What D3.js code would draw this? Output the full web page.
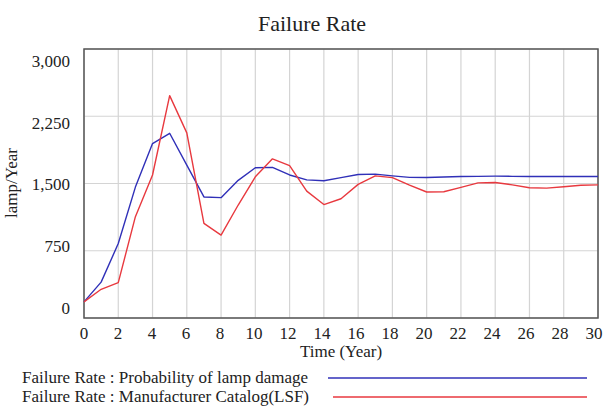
<!DOCTYPE html>
<html>
<head>
<meta charset="utf-8">
<script src="https://cdn.jsdelivr.net/npm/d3@7"></script>
<style>
  html, body { margin: 0; padding: 0; background: #fff; }
  svg { display: block; font-family: "Liberation Serif", "Times New Roman", serif; }
</style>
</head>
<body>
<div id="chart"></div>
<script>
const years = d3.range(0, 31);
const lampDamage = [180, 400, 830, 1460, 1945, 2060, 1705, 1350, 1342, 1535, 1675,
  1680, 1595, 1540, 1530, 1565, 1600, 1604, 1585, 1568, 1567, 1572, 1578, 1580, 1582,
  1580, 1578, 1578, 1578, 1578, 1578];
const catalogLSF = [180, 320, 395, 1130, 1595, 2480, 2065, 1055, 925, 1260, 1575,
  1775, 1700, 1415, 1265, 1330, 1490, 1585, 1565, 1482, 1405, 1408, 1456, 1507, 1511,
  1485, 1452, 1448, 1463, 1480, 1485];
const yTicks = [0, 750, 1500, 2250, 3000];
const xTicks = d3.range(0, 31, 2);
const seriesNames = ["Failure Rate : Probability of lamp damage", "Failure Rate : Manufacturer Catalog(LSF)"];
const seriesColors = ["#3030b8", "#e8393f"];

const width = 608, height = 407;
const margin = { top: 49, right: 10, bottom: 89, left: 84 };
const plotW = width - margin.left - margin.right;
const plotH = height - margin.top - margin.bottom;

const svg = d3.select("#chart").append("svg")
  .attr("width", width)
  .attr("height", height);

const x = d3.scaleLinear().domain([0, 30]).range([margin.left, margin.left + plotW]);
const y = d3.scaleLinear().domain([0, 3000]).range([margin.top + plotH, margin.top]);

// Vensim spreads the labels a little inside the frame
const xLab = d3.scaleLinear().domain([0, 30]).range([margin.left, margin.left + plotW - 4]);
const yLab = d3.scaleLinear().domain([0, 3000]).range([margin.top + plotH - 10, margin.top + 12]);

// grid
svg.append("g").selectAll("line.vg")
  .data(xTicks)
  .enter().append("line")
  .attr("x1", d => x(d)).attr("x2", d => x(d))
  .attr("y1", margin.top).attr("y2", margin.top + plotH)
  .attr("stroke", "#d4d4d4").attr("stroke-width", 1.2);

svg.append("g").selectAll("line.hg")
  .data(yTicks)
  .enter().append("line")
  .attr("x1", margin.left).attr("x2", margin.left + plotW)
  .attr("y1", d => y(d)).attr("y2", d => y(d))
  .attr("stroke", "#d4d4d4").attr("stroke-width", 1.2);

// frame
svg.append("rect")
  .attr("x", margin.left).attr("y", margin.top)
  .attr("width", plotW).attr("height", plotH)
  .attr("fill", "none").attr("stroke", "#555").attr("stroke-width", 1.5);

// tick labels
svg.append("g").selectAll("text")
  .data(yTicks)
  .enter().append("text")
  .attr("x", 70).attr("y", d => yLab(d))
  .attr("dy", "0.35em")
  .attr("text-anchor", "end")
  .attr("font-size", 17)
  .attr("fill", "#222")
  .text(d => d3.format(",")(d));

svg.append("g").selectAll("text")
  .data(xTicks)
  .enter().append("text")
  .attr("x", d => xLab(d)).attr("y", 339)
  .attr("text-anchor", "middle")
  .attr("font-size", 17)
  .attr("fill", "#222")
  .text(d => d);

svg.append("text")
  .attr("x", 341).attr("y", 357)
  .attr("text-anchor", "middle")
  .attr("font-size", 17)
  .attr("fill", "#222")
  .text("Time (Year)");

svg.append("text")
  .attr("transform", "translate(17,183) rotate(-90)")
  .attr("text-anchor", "middle")
  .attr("font-size", 17)
  .attr("fill", "#222")
  .text("lamp/Year");

svg.append("text")
  .attr("x", 312).attr("y", 31)
  .attr("text-anchor", "middle")
  .attr("font-size", 22)
  .attr("fill", "#222")
  .text("Failure Rate");

// lines
const line = d3.line()
  .x((d, i) => x(years[i]))
  .y(d => y(d));

[lampDamage, catalogLSF].forEach((s, i) => {
  svg.append("path")
    .datum(s)
    .attr("d", line)
    .attr("fill", "none")
    .attr("stroke", seriesColors[i])
    .attr("stroke-width", 1.4)
    .attr("stroke-linejoin", "round");
});

// legend
const legendRows = [
  { y: 383, x2: 328 },
  { y: 402, x2: 333 }
];
seriesNames.forEach((name, i) => {
  svg.append("text")
    .attr("x", 22).attr("y", legendRows[i].y)
    .attr("font-size", 17)
    .attr("fill", "#222")
    .text(name);
  svg.append("line")
    .attr("x1", legendRows[i].x2).attr("x2", 587)
    .attr("y1", legendRows[i].y - 5).attr("y2", legendRows[i].y - 5)
    .attr("stroke", seriesColors[i])
    .attr("stroke-width", 1.5);
});
</script>
</body>
</html>
